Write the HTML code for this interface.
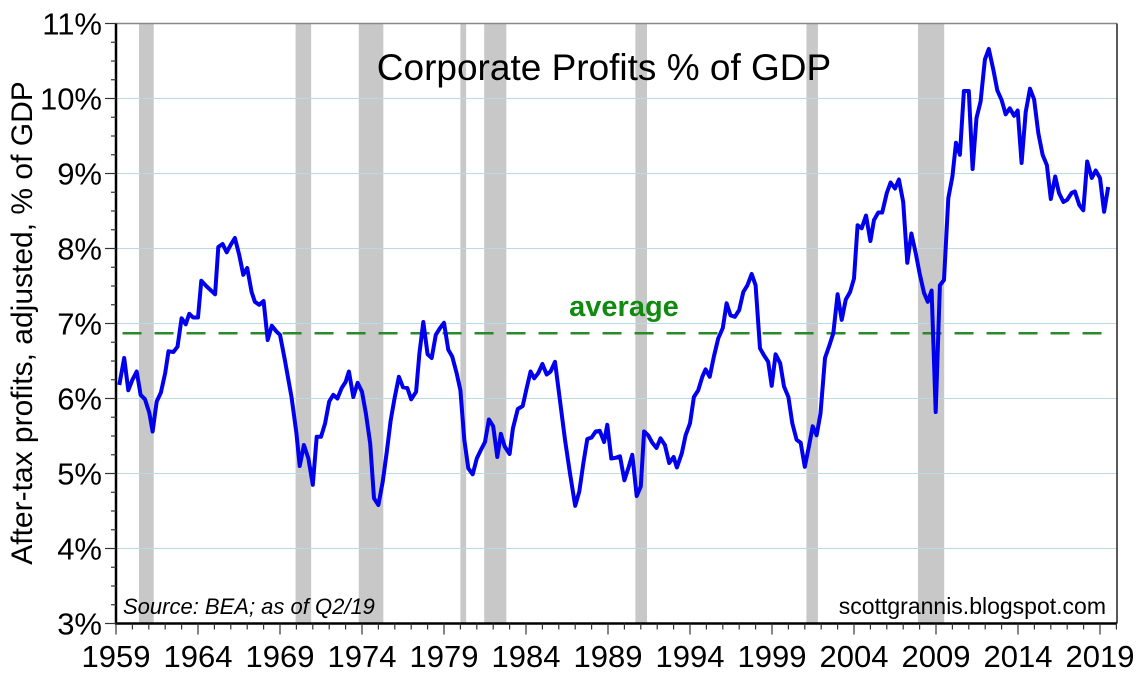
<!DOCTYPE html>
<html><head><meta charset="utf-8"><style>
html,body{margin:0;padding:0;background:#fff;}
svg{display:block;font-family:"Liberation Sans",sans-serif;}
</style></head><body>
<svg id="chart" width="1136" height="678" viewBox="0 0 1136 678" xmlns="http://www.w3.org/2000/svg">
<g id="rec"></g>
<g id="grid"></g>
<g id="avg"></g>
<g id="series"></g>
<g id="axes"></g>
<text x="604" y="80" font-size="37" text-anchor="middle" fill="#000">Corporate Profits % of GDP</text>
<text x="624" y="316" font-size="29" font-weight="bold" text-anchor="middle" fill="#118a11">average</text>
<text transform="translate(32,323) rotate(-90)" font-size="30" text-anchor="middle" fill="#000">After-tax profits, adjusted, % of GDP</text>
<text x="123" y="614" font-size="22" font-style="italic" fill="#000">Source: BEA; as of Q2/19</text>
<text x="1106" y="614" font-size="23" text-anchor="end" fill="#000">scottgrannis.blogspot.com</text>
</svg>
<script>
const years=[1959.2,1959.5,1959.75,1960,1960.26,1960.5,1960.77,1961.03,1961.23,1961.48,1961.74,1962,1962.2,1962.5,1962.75,1963,1963.25,1963.47,1963.7,1964,1964.2,1964.5,1965.04,1965.24,1965.5,1965.75,1966,1966.25,1966.52,1966.76,1967,1967.27,1967.47,1967.74,1968,1968.25,1968.5,1968.8,1969,1969.3,1969.7,1970,1970.2,1970.46,1970.73,1971,1971.24,1971.5,1971.75,1972,1972.25,1972.5,1972.76,1973,1973.2,1973.47,1973.73,1974,1974.24,1974.5,1974.73,1975,1975.26,1975.5,1975.75,1976,1976.25,1976.5,1976.76,1977,1977.3,1977.5,1977.74,1978,1978.25,1978.5,1978.76,1979,1979.26,1979.5,1979.77,1980,1980.24,1980.48,1980.75,1981,1981.24,1981.5,1981.74,1982,1982.25,1982.47,1982.7,1983,1983.2,1983.5,1983.8,1984.04,1984.28,1984.5,1984.75,1985,1985.26,1985.5,1985.77,1986.07,1986.38,1986.68,1987,1987.25,1987.5,1987.74,1988,1988.25,1988.5,1988.76,1988.96,1989.2,1989.47,1989.73,1990,1990.24,1990.48,1990.75,1991,1991.2,1991.45,1991.7,1991.96,1992.2,1992.47,1992.73,1993,1993.2,1993.5,1993.73,1994,1994.24,1994.5,1994.75,1994.95,1995.2,1995.46,1995.72,1996,1996.23,1996.47,1996.74,1997,1997.25,1997.5,1997.76,1998,1998.27,1998.5,1998.77,1998.98,1999.22,1999.5,1999.73,2000,2000.24,2000.5,2000.75,2001,2001.25,2001.48,2001.72,2001.96,2002.23,2002.5,2002.74,2003,2003.25,2003.5,2003.76,2004,2004.22,2004.47,2004.73,2005,2005.22,2005.48,2005.72,2006,2006.23,2006.5,2006.74,2007,2007.25,2007.5,2007.76,2008,2008.27,2008.5,2008.73,2008.98,2009.24,2009.49,2009.75,2010,2010.22,2010.46,2010.7,2011,2011.23,2011.47,2011.72,2011.98,2012.22,2012.5,2012.74,2013,2013.25,2013.5,2013.76,2013.98,2014.22,2014.47,2014.73,2014.98,2015.24,2015.5,2015.76,2016,2016.27,2016.5,2016.77,2017,2017.27,2017.47,2017.74,2017.98,2018.22,2018.5,2018.74,2019,2019.25,2019.5];
const profits=[6.18,6.54,6.11,6.25,6.36,6.05,5.99,5.81,5.56,5.96,6.08,6.34,6.63,6.62,6.69,7.07,6.99,7.13,7.08,7.08,7.57,7.5,7.39,8.02,8.06,7.95,8.05,8.14,7.91,7.65,7.74,7.42,7.29,7.25,7.3,6.78,6.97,6.89,6.85,6.51,6.02,5.54,5.1,5.38,5.2,4.85,5.49,5.49,5.67,5.96,6.05,6.0,6.14,6.22,6.36,6.02,6.21,6.09,5.8,5.4,4.67,4.58,4.89,5.27,5.71,6.02,6.29,6.15,6.14,5.99,6.09,6.6,7.02,6.59,6.54,6.85,6.94,7.01,6.65,6.56,6.34,6.11,5.45,5.07,4.99,5.2,5.31,5.42,5.72,5.63,5.22,5.53,5.36,5.26,5.6,5.86,5.9,6.14,6.36,6.27,6.34,6.46,6.32,6.36,6.49,5.98,5.45,5.0,4.57,4.76,5.14,5.46,5.48,5.56,5.57,5.42,5.65,5.2,5.21,5.23,4.91,5.07,5.25,4.7,4.83,5.56,5.51,5.41,5.34,5.47,5.38,5.14,5.22,5.08,5.27,5.51,5.67,6.02,6.11,6.29,6.39,6.29,6.56,6.8,6.94,7.27,7.11,7.09,7.18,7.42,7.51,7.66,7.51,6.67,6.58,6.49,6.17,6.59,6.47,6.16,6.02,5.67,5.45,5.41,5.09,5.36,5.63,5.51,5.8,6.54,6.71,6.87,7.39,7.05,7.32,7.42,7.6,8.31,8.27,8.44,8.1,8.38,8.48,8.48,8.74,8.88,8.8,8.92,8.62,7.81,8.2,7.94,7.67,7.41,7.29,7.44,5.82,7.51,7.58,8.67,8.96,9.41,9.25,10.1,10.1,9.06,9.74,9.96,10.52,10.66,10.38,10.11,9.98,9.79,9.87,9.77,9.84,9.14,9.82,10.13,9.99,9.54,9.25,9.11,8.66,8.96,8.74,8.62,8.65,8.74,8.76,8.58,8.51,9.16,8.94,9.04,8.94,8.49,8.82];
const recessionStart=[1960.4,1969.95,1973.8,1980.0,1981.45,1990.67,2001.1,2007.9];
const recessionEnd=[1961.3,1970.9,1975.3,1980.35,1982.8,1991.38,2001.8,2009.5];
const averageValue=6.87;
const yTicks=[3,4,5,6,7,8,9,10,11];
const xTickYears=[1959,1964,1969,1974,1979,1984,1989,1994,1999,2004,2009,2014,2019];

const NS="http://www.w3.org/2000/svg";
const X0=116,X1=1117,Y0=623.5,Y1=23.5;
function xs(y){return X0+(y-1959)*16.4;}
function ys(v){return Y0-(v-3)*(Y0-Y1)/8;}
function mk(tag,attrs,parent){const e=document.createElementNS(NS,tag);for(const k in attrs)e.setAttribute(k,attrs[k]);parent.appendChild(e);return e;}

const rec=document.getElementById('rec');
recessionStart.forEach((s,i)=>{
  const r=mk('rect',{x:xs(s),y:Y1,width:xs(recessionEnd[i])-xs(s),height:Y0-Y1,fill:'#c8c8c8'},rec);
  
  
});
const grid=document.getElementById('grid');
yTicks.forEach(v=>{
  if(v===3||v===11)return;
  const l=mk('line',{x1:X0,x2:X1,y1:ys(v),y2:ys(v),stroke:'#bcd9e6','stroke-width':1},grid);
  
  
});
const avg=document.getElementById('avg');
const al=mk('line',{x1:xs(1959.4),x2:xs(2019.5),y1:ys(averageValue),y2:ys(averageValue),stroke:'#2a8a2a','stroke-width':2.5,'stroke-dasharray':'19,13'},avg);



const ser=document.getElementById('series');
const pl=mk('polyline',{points:years.map((y,i)=>xs(y).toFixed(1)+','+ys(profits[i]).toFixed(1)).join(' '),fill:'none',stroke:'#0000ee','stroke-width':4,'stroke-linejoin':'round'},ser);



const ax=document.getElementById('axes');
mk('line',{x1:X0,x2:X1,y1:Y1,y2:Y1,stroke:'#888','stroke-width':1.5},ax);
mk('line',{x1:X1,x2:X1,y1:Y1,y2:Y0,stroke:'#222','stroke-width':1.5},ax);
mk('line',{x1:X0,x2:X0,y1:Y1,y2:Y0+1,stroke:'#000','stroke-width':2.5},ax);
mk('line',{x1:X0-1,x2:X1,y1:Y0,y2:Y0,stroke:'#000','stroke-width':2.5},ax);
for(let v=3;v<=11.001;v+=0.25){
  const major=Math.abs(v-Math.round(v))<0.01;
  mk('line',{x1:X0-(major?11:5),x2:X0,y1:ys(v),y2:ys(v),stroke:'#333','stroke-width':1.2},ax);
}
yTicks.forEach(v=>{
  const t=mk('text',{x:X0-14,y:ys(v)+11,'font-size':31,'text-anchor':'end',fill:'#000'},ax);
  t.textContent=v+'%';
  
  
});
for(let y=1959;y<=2020;y++){
  const major=(y-1959)%5===0;
  mk('line',{x1:xs(y),x2:xs(y),y1:Y0,y2:Y0+(major?11:6),stroke:'#333','stroke-width':1.2},ax);
}
xTickYears.forEach(y=>{
  const t=mk('text',{x:xs(y),y:667,'font-size':31,'text-anchor':'middle',fill:'#000'},ax);
  t.textContent=y;
  
  
});
</script>
</body></html>
